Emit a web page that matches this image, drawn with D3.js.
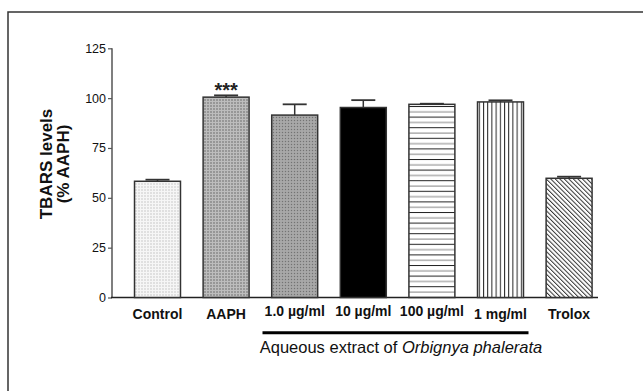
<!DOCTYPE html>
<html><head><meta charset="utf-8">
<script src="https://cdn.jsdelivr.net/npm/d3@7"></script>
<style>body{margin:0;background:#fff}svg{display:block}text{font-family:"Liberation Sans",Arial,sans-serif}</style>
</head><body>
<svg id="c" width="643" height="391"></svg>
<script>
const categories = ["Control","AAPH","1.0 µg/ml","10 µg/ml","100 µg/ml","1 mg/ml","Trolox"];
const values = [58.3, 100.5, 91.5, 95.3, 96.9, 98.1, 59.8];
const errors = [0.8, 0.9, 5.4, 3.7, 0.3, 0.8, 0.8];
const yTicks = [0, 25, 50, 75, 100, 125];
const fills = ["url(#pControl)","url(#pAAPH)","url(#pDot)","#000","url(#pHoriz)","url(#pVert)","url(#pDiag)"];

const svg = d3.select("#c");
const defs = svg.append("defs");
// patterns
let p = defs.append("pattern").attr("id","pControl").attr("patternUnits","userSpaceOnUse").attr("width",3).attr("height",3);
p.append("rect").attr("width",3).attr("height",3).attr("fill","#f6f6f6");
p.append("rect").attr("width",2).attr("height",2).attr("fill","#e0e0e0");
p = defs.append("pattern").attr("id","pAAPH").attr("patternUnits","userSpaceOnUse").attr("width",3).attr("height",3);
p.append("rect").attr("width",3).attr("height",3).attr("fill","#bdbdbd");
p.append("rect").attr("width",2).attr("height",2).attr("fill","#979797");
p = defs.append("pattern").attr("id","pDot").attr("patternUnits","userSpaceOnUse").attr("width",3).attr("height",3);
p.append("rect").attr("width",3).attr("height",3).attr("fill","#a2a2a2");
p.append("rect").attr("width",1).attr("height",1).attr("fill","#737373");
p.append("rect").attr("x",1.5).attr("y",1.5).attr("width",1).attr("height",1).attr("fill","#bababa");
p = defs.append("pattern").attr("id","pHoriz").attr("patternUnits","userSpaceOnUse").attr("width",10).attr("height",10.6);
p.append("rect").attr("width",10).attr("height",10.6).attr("fill","#fff");
p.append("rect").attr("y",0).attr("width",10).attr("height",1).attr("fill","#222");
p.append("rect").attr("y",5.3).attr("width",10).attr("height",1.2).attr("fill","#999");
p = defs.append("pattern").attr("id","pVert").attr("patternUnits","userSpaceOnUse").attr("width",4.2).attr("height",10);
p.append("rect").attr("width",4.2).attr("height",10).attr("fill","#fff");
p.append("rect").attr("x",0).attr("width",1).attr("height",10).attr("fill","#222");
p = defs.append("pattern").attr("id","pDiag").attr("patternUnits","userSpaceOnUse").attr("width",3.2).attr("height",10).attr("patternTransform","rotate(-45)");
p.append("rect").attr("width",3.2).attr("height",10).attr("fill","#fff");
p.append("rect").attr("width",1).attr("height",10).attr("fill","#333");

// frame
svg.append("rect").attr("x",8).attr("y",12).attr("width",700).attr("height",500)
  .attr("fill","none").attr("stroke","#333").attr("stroke-width",1.5);

const x = d3.scaleBand().domain(categories).range([123.2, 603.4]).paddingInner(0.33).paddingOuter(0.165);
const y = d3.scaleLinear().domain([0,125]).range([297.5, 48.3]);

// y axis
const yAxis = svg.append("g").attr("transform","translate(112,0)")
  .call(d3.axisLeft(y).tickValues(yTicks).tickSize(4).tickPadding(2));
yAxis.select(".domain").attr("stroke","#555").attr("stroke-width",1.5).attr("d","M0,"+y(125)+"V"+y(0));
yAxis.selectAll(".tick line").attr("stroke","#555").attr("stroke-width",1.2);
yAxis.selectAll(".tick text").attr("font-size",12.5).attr("fill","#111").attr("font-family","Liberation Sans, Arial, sans-serif");

// x axis line
svg.append("line").attr("x1",111).attr("x2",598).attr("y1",y(0)).attr("y2",y(0))
  .attr("stroke","#222").attr("stroke-width",1.5);

// bars
const bw = x.bandwidth();
svg.selectAll("rect.bar").data(values).enter().append("rect").attr("class","bar")
  .attr("x",(d,i)=>x(categories[i])).attr("y",d=>y(d))
  .attr("width",bw).attr("height",d=>y(0)-y(d))
  .attr("fill",(d,i)=>fills[i]).attr("stroke","#333").attr("stroke-width",1.5);

// error bars
const capW = 24;
const eb = svg.selectAll("g.err").data(values).enter().append("g").attr("class","err");
eb.append("line").attr("x1",(d,i)=>x(categories[i])+bw/2).attr("x2",(d,i)=>x(categories[i])+bw/2)
  .attr("y1",d=>y(d)).attr("y2",(d,i)=>y(d+errors[i])).attr("stroke","#333").attr("stroke-width",1.5);
eb.append("line").attr("x1",(d,i)=>x(categories[i])+bw/2-capW/2).attr("x2",(d,i)=>x(categories[i])+bw/2+capW/2)
  .attr("y1",(d,i)=>y(d+errors[i])).attr("y2",(d,i)=>y(d+errors[i])).attr("stroke","#333").attr("stroke-width",1.8);

// significance
svg.append("text").attr("x",x("AAPH")+bw/2).attr("y",97).attr("text-anchor","middle")
  .attr("font-size",20).attr("font-weight","bold").attr("fill","#222").text("***");

// category labels
const labY = [314,314,311,311,311,314,314];
svg.selectAll("text.cat").data(categories).enter().append("text").attr("class","cat")
  .attr("x",d=>x(d)+bw/2).attr("y",(d,i)=>labY[i]+4.5).attr("text-anchor","middle")
  .attr("font-size",14).attr("font-weight","bold").attr("fill","#111").text(d=>d);

// group line
svg.append("line").attr("x1",262.5).attr("x2",528.5).attr("y1",332.7).attr("y2",332.7)
  .attr("stroke","#000").attr("stroke-width",3);
const gt = svg.append("text").attr("x",401).attr("y",353).attr("text-anchor","middle")
  .attr("font-size",16.5).attr("fill","#111");
gt.append("tspan").text("Aqueous extract of ");
gt.append("tspan").attr("font-style","italic").text("Orbignya phalerata");

// y title
const yt = svg.append("text").attr("transform","translate(46,164) rotate(-90)").attr("text-anchor","middle")
  .attr("font-size",17).attr("font-weight","bold").attr("fill","#111");
yt.append("tspan").attr("x",0).attr("dy","0.35em").text("TBARS levels");
yt.append("tspan").attr("x",0).attr("dy","1.0em").text("(% AAPH)");
</script>
</body></html>
